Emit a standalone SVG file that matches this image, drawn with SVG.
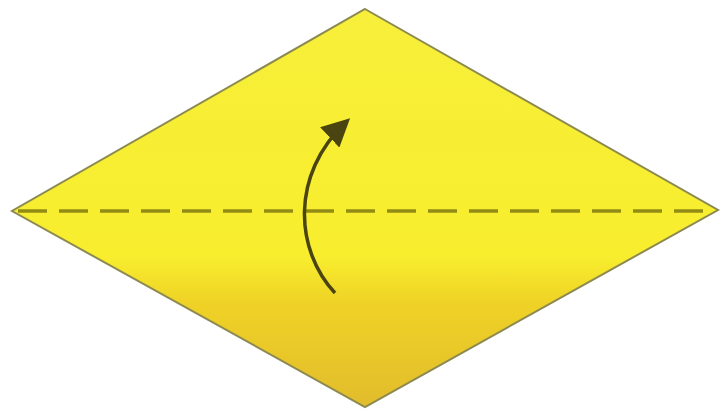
<svg xmlns="http://www.w3.org/2000/svg" width="725" height="414" viewBox="0 0 725 414">
<defs>
<linearGradient id="paper" x1="0" y1="0" x2="0" y2="1">
<stop offset="0" stop-color="#f7ef3a"/>
<stop offset="0.62" stop-color="#f8ee2e"/>
<stop offset="0.74" stop-color="#efd226"/>
<stop offset="1" stop-color="#e2bc2c"/>
</linearGradient>
<marker id="head" viewBox="0 0 10 10" refX="8" refY="5" markerWidth="8" markerHeight="8" markerUnits="strokeWidth" orient="auto">
<path d="M0,0 L10,5 L0,10 Z" fill="#4a4410"/>
</marker>
<style>
.edge{fill:url(#paper);stroke:#8c8a50;stroke-width:2}
.fold{stroke:#938c14;stroke-width:3.5;stroke-dasharray:29 12;fill:none}
.arrow{stroke:#4a4410;stroke-width:3.5;fill:none}
</style>
</defs>
<rect width="725" height="414" fill="#ffffff"/>
<g id="paper-sheet">
<polygon class="edge" points="365,9 718,210 365,407 12,211"/>
</g>
<g id="connectors">
<line class="fold" x1="18" y1="211" x2="714" y2="211"/>
<path class="arrow" d="M335,293 C295,250 290,175 346,122" marker-end="url(#head)"/>
</g>
</svg>
